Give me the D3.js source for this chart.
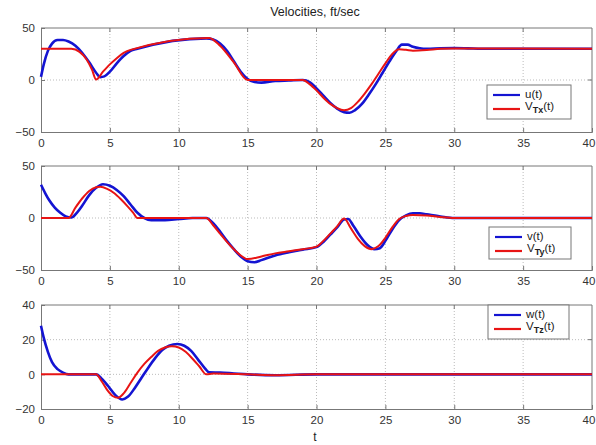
<!DOCTYPE html>
<html>
<head>
<meta charset="utf-8">
<script src="https://cdn.jsdelivr.net/npm/d3@7"></script>
<style>
  body { margin: 0; background: #fff; }
  svg text { font-family: "Liberation Sans", Arial, sans-serif; }
</style>
</head>
<body>
<svg id="chart" width="596" height="445"></svg>
<script>
// [t, value] samples
const uData = [[0,3],[0.2,15],[0.5,28],[0.8,35],[1.2,38.5],[1.6,38.5],[2,37],[2.5,33],[3,26],[3.5,17],[4,7],[4.3,2.8],[4.6,3.5],[5,8],[5.5,16],[6,23],[6.5,28],[7,30],[12,40],[12.5,39],[13,35],[13.5,28],[14,18],[14.5,8],[15,1],[15.5,-2],[16,-2.5],[17,-1],[18,-0.5],[19,0],[19.5,-2],[20,-8],[20.5,-15],[21,-22],[21.5,-27.5],[22,-31],[22.4,-31.5],[22.8,-29],[23.3,-23],[23.8,-14],[24.3,-4],[24.8,7],[25.3,18],[25.8,28],[26.2,34],[26.6,34],[27,32],[27.5,30.5],[28,30],[29,30.5],[30,30.7],[31,30.4],[32,30],[40,30]];
const vtxData = [[0,30],[2.2,30],[2.8,27],[3.3,20],[3.7,10],[4.0,0.5],[4.5,8],[5,15],[5.5,21],[6,26],[6.5,29],[12.2,40.5],[13,33],[14,17],[15,0],[19,0],[19.5,-4],[20,-10],[20.5,-17],[21,-23],[21.5,-27],[22,-29],[22.5,-27],[23,-21],[23.5,-13],[24,-4],[24.5,6],[25,16],[25.5,25],[26,29.5],[26.5,29],[27,28.2],[28,28.8],[29,30],[30,30.3],[40,30]];

const vData = [[0,32],[0.3,24],[0.6,17],[1,10],[1.4,5],[1.8,1.5],[2.2,0.5],[2.6,5],[3,12],[3.5,22],[4,29],[4.5,32.5],[5,31],[5.5,27],[6,21],[6.5,13],[7,5],[7.5,0],[8,-2],[9,-2],[10,-1],[11,0],[12,0],[12.5,-5],[13,-13],[13.5,-22],[14,-30],[14.5,-37],[15,-41.5],[15.5,-42.5],[16,-40.5],[17,-36],[18,-33],[19,-30.5],[20,-28],[20.5,-23],[21,-16],[21.5,-9],[22,-1.5],[22.3,-1],[22.7,-8],[23.2,-18],[23.7,-26],[24.2,-30],[24.6,-29],[25,-22],[25.5,-11],[26,-2],[26.5,2.5],[27,4.5],[27.5,4.5],[28,3.5],[29,1.5],[30,0],[40,0]];
const vtyData = [[0,0],[2,0],[2.5,10],[3,19],[3.5,26],[4,29.5],[4.3,30],[4.8,28],[5.3,24],[5.8,18],[6.3,11],[6.7,5],[7,0],[12,0],[12.5,-7],[13,-15],[13.5,-23],[14,-30],[14.5,-36],[15,-39.5],[16,-37],[17,-34],[18,-32],[19,-30],[20,-27.5],[20.5,-22],[21,-15],[21.5,-8],[22,-0.5],[22.5,-10],[23,-20],[23.5,-27],[24,-30],[24.5,-27],[25,-19],[25.5,-9],[26,-1],[26.5,2],[27,3],[28,2.5],[29,1],[30,0],[40,0]];

const wData = [[0,28],[0.2,21],[0.5,13],[0.8,7],[1.2,3],[1.6,1],[2,0],[4,0],[4.4,-2.5],[4.9,-7],[5.4,-12],[5.9,-14.5],[6.3,-13],[6.8,-8],[7.3,-2],[7.8,4],[8.3,9.5],[8.8,14],[9.3,16.5],[9.9,17.5],[10.4,16.5],[10.9,13.5],[11.4,8.5],[11.9,3.5],[12.2,1.2],[13,1],[14,0.5],[15,0],[17,-0.5],[20,0],[40,0]];
const vtzData = [[0,0],[4,0],[4.4,-4],[4.8,-9],[5.2,-12.5],[5.6,-13.5],[6,-11],[6.5,-5],[7,1],[7.5,6],[8,10],[8.5,13.5],[9,15.5],[9.5,16.2],[10,15.5],[10.5,13],[11,9],[11.5,4.5],[12,0],[12.5,0.5],[15,0],[17,-0.5],[20,0],[40,0]];

const xTicks = [0, 5, 10, 15, 20, 25, 30, 35, 40];
const yTicks1 = [-50, 0, 50];
const yTicks3 = [-20, 0, 20, 40];

const panels = [
  { top: 28, bottom: 132, domain: [-50, 50], ticks: yTicks1, blue: uData, red: vtxData,
    names: ["u(t)", "V", "Tx"], legend: [487, 85, 84, 34] },
  { top: 166, bottom: 270, domain: [-50, 50], ticks: yTicks1, blue: vData, red: vtyData,
    names: ["v(t)", "V", "Ty"], legend: [489, 227, 82, 32] },
  { top: 305, bottom: 409, domain: [-20, 40], ticks: yTicks3, blue: wData, red: vtzData,
    names: ["w(t)", "V", "Tz"], legend: [488, 305, 81, 34] }
];

const svg = d3.select("#chart");
const left = 41, right = 592;
const x = d3.scaleLinear().domain([0, 40]).range([left, right]);

svg.append("text")
  .attr("x", 315).attr("y", 16)
  .attr("text-anchor", "middle")
  .attr("font-size", 12.5)
  .attr("fill", "#222")
  .text("Velocities, ft/sec");

panels.forEach(p => {
  const y = d3.scaleLinear().domain(p.domain).range([p.bottom, p.top]);
  const g = svg.append("g");

  // grid
  g.append("g").selectAll("line").data(xTicks.slice(1, -1)).enter().append("line")
    .attr("x1", d => x(d)).attr("x2", d => x(d))
    .attr("y1", p.top).attr("y2", p.bottom)
    .attr("stroke", "#bbb").attr("stroke-dasharray", "1,2");
  g.append("g").selectAll("line").data(p.ticks.slice(1, -1)).enter().append("line")
    .attr("x1", left).attr("x2", right)
    .attr("y1", d => y(d)).attr("y2", d => y(d))
    .attr("stroke", "#bbb").attr("stroke-dasharray", "1,2");

  // axes
  const xa = g.append("g").attr("transform", "translate(0," + p.bottom + ")")
    .call(d3.axisBottom(x).tickValues(xTicks).tickSize(-4).tickPadding(7));
  const ya = g.append("g").attr("transform", "translate(" + left + ",0)")
    .call(d3.axisLeft(y).tickValues(p.ticks).tickSize(-4).tickPadding(6));
  [xa, ya].forEach(a => {
    a.select(".domain").attr("stroke", "#777");
    a.selectAll(".tick line").attr("stroke", "#777");
    a.selectAll(".tick text").attr("font-size", 11.5).attr("fill", "#333")
      .attr("font-family", "Liberation Sans, Arial, sans-serif");
  });
  // keep the last x label inside the window
  xa.selectAll(".tick text").filter(d => d === 40).attr("dx", -3.5);

  // top and right frame
  g.append("line").attr("x1", left).attr("x2", right).attr("y1", p.top).attr("y2", p.top).attr("stroke", "#777");
  g.append("line").attr("x1", right).attr("x2", right).attr("y1", p.top).attr("y2", p.bottom).attr("stroke", "#777");
  g.append("g").selectAll("line").data(xTicks.slice(1, -1)).enter().append("line")
    .attr("x1", d => x(d)).attr("x2", d => x(d)).attr("y1", p.top).attr("y2", p.top + 4).attr("stroke", "#777");
  g.append("g").selectAll("line").data(p.ticks.slice(1, -1)).enter().append("line")
    .attr("x1", right - 4).attr("x2", right).attr("y1", d => y(d)).attr("y2", d => y(d)).attr("stroke", "#777");

  const line = d3.line().x(d => x(d[0])).y(d => y(d[1])).curve(d3.curveMonotoneX);
  g.append("path").datum(p.blue).attr("d", line)
    .attr("fill", "none").attr("stroke", "#1414d2").attr("stroke-width", 2.6);
  g.append("path").datum(p.red).attr("d", line)
    .attr("fill", "none").attr("stroke", "#e81414").attr("stroke-width", 2);

  // legend
  const [lx, ly, lw, lh] = p.legend;
  const lg = g.append("g");
  lg.append("rect").attr("x", lx).attr("y", ly).attr("width", lw).attr("height", lh)
    .attr("fill", "#fff").attr("stroke", "#777");
  lg.append("line").attr("x1", lx + 6).attr("x2", lx + 33).attr("y1", ly + 10).attr("y2", ly + 10)
    .attr("stroke", "#1414d2").attr("stroke-width", 2.2);
  lg.append("line").attr("x1", lx + 6).attr("x2", lx + 33).attr("y1", ly + 24).attr("y2", ly + 24)
    .attr("stroke", "#e81414").attr("stroke-width", 2.2);
  lg.append("text").attr("x", lx + 38).attr("y", ly + 13).attr("font-size", 11.5).attr("fill", "#222")
    .text(p.names[0]);
  const t2 = lg.append("text").attr("x", lx + 38).attr("y", ly + 25).attr("font-size", 11.5).attr("fill", "#222");
  t2.append("tspan").text(p.names[1]);
  t2.append("tspan").attr("dy", 3).attr("font-size", 9).attr("font-weight", "bold").text(p.names[2]);
  t2.append("tspan").attr("dy", -3).text("(t)");
});

svg.append("text")
  .attr("x", 315).attr("y", 441)
  .attr("text-anchor", "middle")
  .attr("font-size", 12)
  .attr("fill", "#222")
  .text("t");
</script>
</body>
</html>
